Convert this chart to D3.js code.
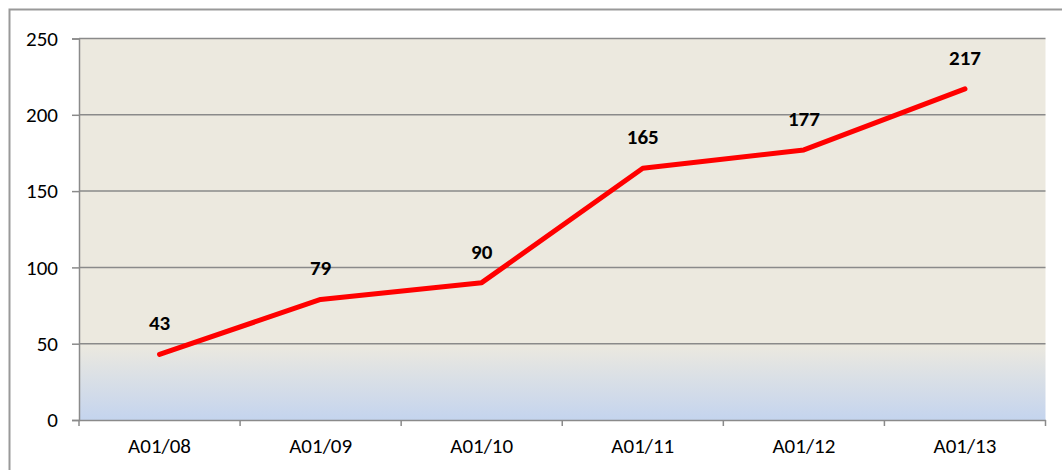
<!DOCTYPE html>
<html><head><meta charset="utf-8">
<script src="https://cdn.jsdelivr.net/npm/d3@7"></script>
<style>body{margin:0;background:#fff}svg{display:block}text{font-family:Carlito,Calibri,Lato,"Open Sans",sans-serif}</style>
</head><body>
<svg id="c" width="1062" height="470"></svg>
<script>
const categories = ["A01/08","A01/09","A01/10","A01/11","A01/12","A01/13"];
const values = [43,79,90,165,177,217];
const yTicks = [0,50,100,150,200,250];

const svg = d3.select("#c");
const L = 79, R = 1045.5, T = 38.5, B = 420;
svg.append("rect").attr("x",9.5).attr("y",9.5).attr("width",1100).attr("height",500)
  .attr("fill","none").attr("stroke","#999").attr("stroke-width",2);

const defs = svg.append("defs");
const g = defs.append("linearGradient").attr("id","bg").attr("x1",0).attr("y1",0).attr("x2",0).attr("y2",1);
g.append("stop").attr("offset","0.8").attr("stop-color","#ECE9DF");
g.append("stop").attr("offset","1").attr("stop-color","#C4D4EE");

const x = d3.scaleBand().domain(categories).range([L,R]);
const y = d3.scaleLinear().domain([0,250]).range([B,T]);

svg.append("rect").attr("x",L).attr("y",T).attr("width",R-L).attr("height",B-T).attr("fill","url(#bg)");

svg.append("g").selectAll("line").data(yTicks.filter(d=>d>0)).join("line")
  .attr("x1",L).attr("x2",R).attr("y1",d=>y(d)).attr("y2",d=>y(d))
  .attr("stroke","#8a8a8a").attr("stroke-width",1.5);

const ya = svg.append("g").attr("transform",`translate(${L},0)`)
  .call(d3.axisLeft(y).tickValues(yTicks).tickSize(7).tickPadding(14));
ya.select(".domain").attr("stroke","#8a8a8a").attr("stroke-width",1.5);
ya.selectAll(".tick line").attr("stroke","#8a8a8a").attr("stroke-width",1.5);
ya.selectAll("text").style("font-size","21px").attr("fill","#000");

const xa = svg.append("g").attr("transform",`translate(0,${B})`)
  .call(d3.axisBottom(x).tickSize(0).tickPadding(20));
xa.select(".domain").attr("stroke","#8a8a8a").attr("stroke-width",1.5);
xa.selectAll("text").style("font-size","21px").attr("fill","#000").attr("dy","0.6em");
const edges = categories.map(c=>x(c)).concat([R]);
svg.append("g").selectAll("line").data(edges).join("line")
  .attr("x1",d=>d).attr("x2",d=>d).attr("y1",B).attr("y2",B+6)
  .attr("stroke","#8a8a8a").attr("stroke-width",1.5);

const cx = d=>x(d)+x.bandwidth()/2;
svg.append("path").datum(categories.map((c,i)=>[cx(c),y(values[i])]))
  .attr("d",d3.line()).attr("fill","none").attr("stroke","#ff0000")
  .attr("stroke-width",5).attr("stroke-linecap","round").attr("stroke-linejoin","round");

svg.append("g").selectAll("text").data(categories).join("text")
  .attr("x",cx).attr("y",(c,i)=>y(values[i])-24)
  .attr("text-anchor","middle").style("font-size","21px").attr("font-weight","bold")
  .text((c,i)=>values[i]);
</script>
</body></html>
